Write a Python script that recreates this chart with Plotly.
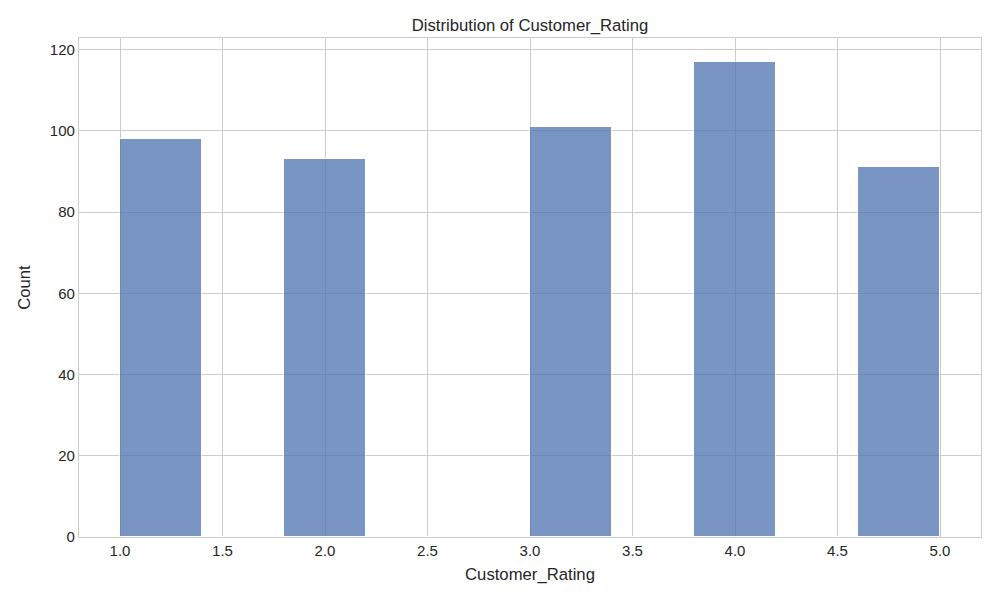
import plotly.graph_objects as go

bin_lefts = [1.0, 1.4, 1.8, 2.2, 2.6, 3.0, 3.4, 3.8, 4.2, 4.6]
bin_width = 0.4
counts = [98, 0, 93, 0, 0, 101, 0, 117, 0, 91]

x_ticks = [1.0, 1.5, 2.0, 2.5, 3.0, 3.5, 4.0, 4.5, 5.0]
y_ticks = [0, 20, 40, 60, 80, 100, 120]

fig = go.Figure()
fig.add_trace(go.Bar(
    x=[l + bin_width / 2 for l in bin_lefts],
    y=counts,
    width=bin_width,
    marker=dict(color="#4c72b0", line=dict(color="white", width=1)),
    opacity=0.75,
))

font = "Liberation Sans, Arial, sans-serif"
fig.update_layout(
    width=1000, height=600,
    margin=dict(l=71, r=27, t=30, b=71, autoexpand=False),
    plot_bgcolor="white", paper_bgcolor="white",
    showlegend=False,
    bargap=0,
    font=dict(family=font, size=15, color="#262626"),
    title=dict(text="Distribution of Customer_Rating", x=0.5, xanchor="center",
               xref="paper",
               y=1 - 17 / 600, yanchor="middle", font=dict(size=16.7, color="#262626")),
)
axis_common = dict(
    showgrid=True, gridcolor="#cccccc", gridwidth=1,
    showline=True, linecolor="#cccccc", linewidth=1.25, mirror=True,
    zeroline=False, ticks="", tickfont=dict(size=15, color="#262626"),
)
fig.update_xaxes(range=[0.8, 5.2], tickvals=x_ticks,
                 ticktext=[f"{v:.1f}" for v in x_ticks],
                 title=dict(text="Customer_Rating", font=dict(size=16.7), standoff=10),
                 **axis_common)
fig.update_yaxes(range=[0, 122.85], tickvals=y_ticks,
                 title=dict(text="Count", font=dict(size=16.7), standoff=14),
                 **axis_common)

fig.write_html("out.html")
